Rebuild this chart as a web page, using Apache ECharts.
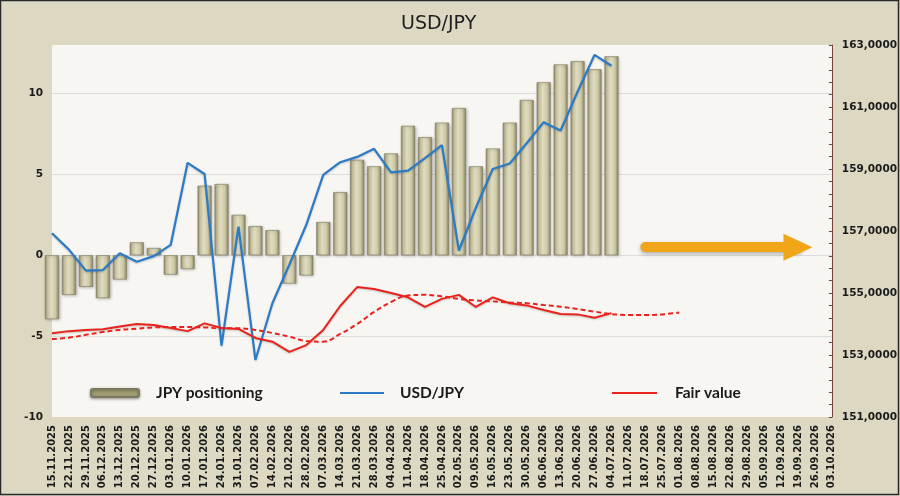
<!DOCTYPE html>
<html style="height: 100%; width:100%">
<head>
    <meta charset="utf-8">
    <script type="text/javascript" src="https://cdn.jsdelivr.net/npm/echarts@6/dist/echarts.min.js"></script>
</head>
<body style="height: 100%; width: 100%; margin: 0; background:#DCD8C2">
<div id="container" style="height: 496px;width:900px"></div>
<script type="text/javascript">
    // weekly dates
    var dates = ['15.11.2025','22.11.2025','29.11.2025','06.12.2025','13.12.2025','20.12.2025','27.12.2025',
        '03.01.2026','10.01.2026','17.01.2026','24.01.2026','31.01.2026','07.02.2026','14.02.2026','21.02.2026',
        '28.02.2026','07.03.2026','14.03.2026','21.03.2026','28.03.2026','04.04.2026','11.04.2026','18.04.2026',
        '25.04.2026','02.05.2026','09.05.2026','16.05.2026','23.05.2026','30.05.2026','06.06.2026','13.06.2026',
        '20.06.2026','27.06.2026','04.07.2026','11.07.2026','18.07.2026','25.07.2026','01.08.2026','08.08.2026',
        '15.08.2026','22.08.2026','29.08.2026','05.09.2026','12.09.2026','19.09.2026','26.09.2026','03.10.2026'];

    // JPY positioning (left axis)
    var positioning = [-3.95, -2.45, -1.95, -2.65, -1.5, 0.8, 0.45, -1.2, -0.85, 4.3, 4.4, 2.5, 1.8, 1.55,
        -1.75, -1.25, 2.05, 3.9, 5.9, 5.5, 6.3, 8.0, 7.3, 8.2, 9.1, 5.5, 6.6, 8.2, 9.6, 10.7, 11.8, 12.0, 11.5, 12.3];

    // USD/JPY rate (right axis)
    var usdjpy = [156.93, 156.40, 155.72, 155.74, 156.28, 156.01, 156.19, 156.55, 159.20, 158.84, 153.30, 157.14,
        152.84, 154.67, 155.91, 157.20, 158.81, 159.22, 159.39, 159.65, 158.89, 158.95, 159.35, 159.77, 156.37,
        157.75, 159.00, 159.18, 159.83, 160.51, 160.24, 161.49, 162.68, 162.33];

    // fair value, solid and dashed (smoothed) line
    var fairValue = [153.70, 153.77, 153.81, 153.83, 153.92, 154.00, 153.97, 153.87, 153.77, 154.02, 153.87, 153.84,
        153.55, 153.43, 153.10, 153.32, 153.81, 154.58, 155.19, 155.13, 155.00, 154.86, 154.55, 154.81, 154.94,
        154.55, 154.86, 154.67, 154.60, 154.45, 154.32, 154.31, 154.20, 154.35];
    var fairTrend = [153.52, 153.56, 153.65, 153.74, 153.81, 153.85, 153.89, 153.90, 153.90, 153.89, 153.86, 153.86,
        153.81, 153.71, 153.59, 153.45, 153.43, 153.68, 154.00, 154.39, 154.71, 154.92, 154.94, 154.89, 154.81,
        154.76, 154.73, 154.69, 154.67, 154.61, 154.56, 154.48, 154.40, 154.32, 154.29, 154.29, 154.31, 154.37];

    // arrow annotation
    var arrowFrom = '18.07.2026';
    var arrowTo = '19.09.2026';
    var arrowLevel = 0.5;

    var dom = document.getElementById("container");
    var myChart = echarts.init(dom);

    var labelFont = {fontFamily: 'DejaVu Sans', fontWeight: 'bold', fontSize: 10.5, color: '#1a1a1a'};
    var legendText = {fontFamily: 'Lato', fontWeight: 'bold', fontSize: 15.5, color: '#1a1a1a'};
    var blue = '#2B7BC6', red = '#E8231D';

    var option = {
        animation: false,
        backgroundColor: '#DCD8C2',
        title: {
            text: 'USD/JPY',
            left: 396,
            top: 10,
            textStyle: {fontFamily: 'DejaVu Sans', fontWeight: 'normal', fontSize: 19, color: '#1e1e1e'}
        },
        grid: {
            show: true,
            left: 52,
            right: 68,
            top: 45,
            bottom: 79,
            backgroundColor: '#F7F6F2',
            borderWidth: 0
        },
        legend: [{
            data: [{name: 'JPY positioning', itemStyle: {color: '#A49E74', shadowBlur: 3, shadowColor: 'rgba(0,0,0,0.35)', shadowOffsetY: 1}}],
            left: 90, top: 385, padding: 0, itemWidth: 48, itemHeight: 8, selectedMode: false,
            textStyle: Object.assign({padding: [0, 0, 0, 12]}, legendText)
        }, {
            data: [{name: 'USD/JPY', icon: 'rect', itemStyle: {color: blue}}],
            left: 340, top: 385, padding: 0, itemWidth: 44, itemHeight: 2, selectedMode: false,
            textStyle: Object.assign({padding: [0, 0, 0, 11]}, legendText)
        }, {
            data: [{name: 'Fair value', icon: 'rect', itemStyle: {color: red}}],
            left: 612, top: 385, padding: 0, itemWidth: 45, itemHeight: 2, selectedMode: false,
            textStyle: Object.assign({padding: [0, 0, 0, 13]}, legendText)
        }],
        xAxis: {
            type: 'category',
            data: dates,
            boundaryGap: false,
            axisLine: {show: false},
            axisTick: {show: false},
            splitLine: {show: false},
            axisLabel: {
                interval: 0, rotate: 90, margin: 8, fontSize: 10,
                fontFamily: 'DejaVu Sans', fontWeight: 'bold', color: '#1a1a1a'
            }
        },
        yAxis: [{
            type: 'value',
            min: -10,
            max: 13,
            interval: 5,
            axisLine: {show: false},
            axisTick: {show: false},
            axisLabel: Object.assign({margin: 9, showMaxLabel: false, formatter: function (v) {
                return v % 5 === 0 ? String(v) : '';
            }}, labelFont),
            splitLine: {show: true, showMaxLine: false, showMinLine: false, lineStyle: {color: '#DCDCDA', width: 1}}
        }, {
            type: 'value',
            position: 'right',
            min: 151,
            max: 163,
            interval: 2,
            axisLine: {show: true, lineStyle: {color: '#7A4040', width: 1}},
            axisTick: {show: true, inside: true, length: 3, lineStyle: {color: '#6E3A3A'}},
            minorTick: {show: true, splitNumber: 5, length: 3, lineStyle: {color: '#6E3A3A'}},
            splitLine: {show: false},
            axisLabel: Object.assign({margin: 10, formatter: function (v) {
                return v.toFixed(4).replace('.', ',');
            }}, labelFont)
        }],
        series: [{
            name: 'JPY positioning',
            type: 'bar',
            yAxisIndex: 0,
            barWidth: 14,
            data: positioning,
            itemStyle: {
                color: new echarts.graphic.LinearGradient(0, 0, 1, 0, [
                    {offset: 0, color: '#8F896A'},
                    {offset: 0.18, color: '#C8C29E'},
                    {offset: 0.45, color: '#E0DCC0'},
                    {offset: 0.75, color: '#CDC8A4'},
                    {offset: 1, color: '#878160'}
                ]),
                borderColor: '#7E7A62',
                borderWidth: 0.6,
                shadowBlur: 3,
                shadowColor: 'rgba(0,0,0,0.25)',
                shadowOffsetX: 1,
                shadowOffsetY: 1
            },
            markLine: {
                silent: true,
                symbol: ['none', 'triangle'],
                symbolSize: [27, 29],
                label: {show: false},
                lineStyle: {
                    color: '#F0A618', width: 10, type: 'solid', cap: 'round',
                    shadowBlur: 4, shadowColor: 'rgba(0,0,0,0.3)', shadowOffsetY: 2
                },
                itemStyle: {color: '#F0A618'},
                emphasis: {disabled: true},
                data: [[{coord: [arrowFrom, arrowLevel]}, {coord: [arrowTo, arrowLevel]}]]
            }
        }, {
            name: 'USD/JPY',
            type: 'line',
            yAxisIndex: 1,
            data: usdjpy,
            symbol: 'none',
            lineStyle: {color: blue, width: 2.2, shadowBlur: 2, shadowColor: 'rgba(0,0,0,0.2)', shadowOffsetY: 1},
            itemStyle: {color: blue}
        }, {
            name: 'Fair value',
            type: 'line',
            yAxisIndex: 1,
            data: fairValue,
            symbol: 'none',
            lineStyle: {color: red, width: 2, shadowBlur: 2, shadowColor: 'rgba(0,0,0,0.2)', shadowOffsetY: 1},
            itemStyle: {color: red}
        }, {
            name: 'Fair value trend',
            type: 'line',
            yAxisIndex: 1,
            data: fairTrend,
            symbol: 'none',
            smooth: 0.4,
            lineStyle: {color: red, width: 2, type: [5, 3]},
            itemStyle: {color: red}
        }],
        graphic: [{
            type: 'rect',
            silent: true,
            shape: {x: 0.5, y: 0.5, width: 898, height: 494},
            style: {fill: 'none', stroke: '#2a2a2a', lineWidth: 1.5}
        }]
    };
    myChart.setOption(option, true);
</script>
</body>
</html>
